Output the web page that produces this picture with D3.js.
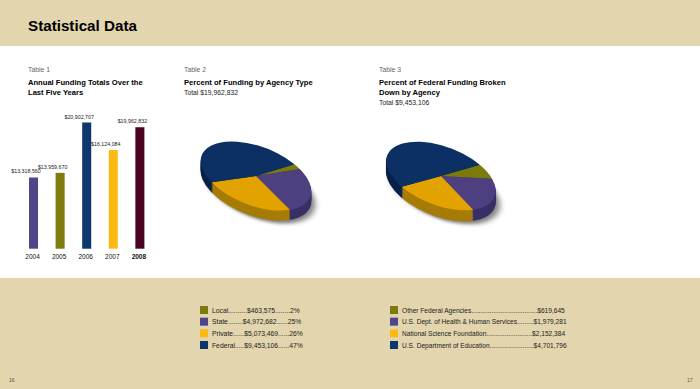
<!DOCTYPE html>
<html><head><meta charset="utf-8">
<script src="https://cdn.jsdelivr.net/npm/d3@7"></script>
<style>html,body{margin:0;padding:0;background:#fff}svg{display:block}text{font-family:"Liberation Sans",Arial,sans-serif}</style>
</head><body><svg id="c" width="700" height="389"></svg>
<script>
const years = ["2004","2005","2006","2007","2008"];
const barValues = [13318560,13959670,20902707,17100000,20250000];
const barLabels = ["$13,318,560","$13,959,670","$20,902,707","$16,124,084","$19,962,832"];
const barColors = ["#50468a","#7f7d0e","#0e376c","#fdb913","#4b0320"];
const agencyTypes = ["Local","State","Private","Federal"];
const agencyValues = [463575,4972682,5073469,9453106];
const agencyRows = ["Local..........$463,575........2%","State........$4,972,682......25%","Private......$5,073,469......26%","Federal.....$9,453,106......47%"];
const federalAgencies = ["Other Federal Agencies","U.S. Dept. of Health & Human Services","National Science Foundation","U.S. Department of Education"];
const federalValues = [619645,1979281,2152384,4701796];
const federalRows = ["Other Federal Agencies....................................$619,645","U.S. Dept. of Health & Human Services.........$1,979,281","National Science Foundation.........................$2,152,384","U.S. Department of Education........................$4,701,796"];
const pieTop = ["#7b7b0a","#4e4080","#e2a200","#0c3063"];
const pieSide = ["#5c5c08","#3a2f66","#a67c08","#07214a"];
const legendColors = ["#7b7b0a","#50468a","#fdb913","#0e376c"];

const band = "#e3d5ad";
const svg = d3.select("#c");
const defs = svg.append("defs");
defs.append("filter").attr("id","blur").attr("x","-30%").attr("y","-30%").attr("width","160%").attr("height","160%")
  .append("feGaussianBlur").attr("stdDeviation",3);

svg.append("rect").attr("width",700).attr("height",46).attr("fill",band);
svg.append("rect").attr("y",278).attr("width",700).attr("height",111).attr("fill",band);
svg.append("text").attr("x",28).attr("y",31).attr("font-size",15.2).attr("font-weight","bold").attr("fill","#000").text("Statistical Data");

function head(x, table, lines, total){
  svg.append("text").attr("x",x).attr("y",72).attr("font-size",6.8).attr("fill","#666").text(table);
  lines.forEach((l,i)=>svg.append("text").attr("x",x).attr("y",85+i*10).attr("font-size",7.6).attr("font-weight","bold").attr("fill","#000").text(l));
  if(total) svg.append("text").attr("x",x).attr("y",85+lines.length*10-0.5).attr("font-size",6.8).attr("fill","#222").text(total);
}
head(28,"Table 1",["Annual Funding Totals Over the","Last Five Years"]);
head(184,"Table 2",["Percent of Funding by Agency Type"],"Total $19,962,832");
head(379,"Table 3",["Percent of Federal Funding Broken","Down by Agency"],"Total $9,453,106");

// bars
const x = d3.scaleBand().domain(years).range([29,144.4]).paddingInner(0.66).paddingOuter(0);
const y = d3.scaleLinear().domain([3500000,20902707]).range([248.7,122.5]);
const gb = svg.append("g");
gb.selectAll("rect").data(years).join("rect")
  .attr("x",d=>x(d)).attr("width",x.bandwidth())
  .attr("y",(d,i)=>y(barValues[i])).attr("height",(d,i)=>y.range()[0]-y(barValues[i]))
  .attr("fill",(d,i)=>barColors[i]);
gb.selectAll("text.v").data(years).join("text").attr("class","v")
  .attr("x",d=>x(d)+x.bandwidth()/2-7.5).attr("y",(d,i)=>y(barValues[i])-4)
  .attr("text-anchor","middle").attr("font-size",5.3).attr("fill","#222").text((d,i)=>barLabels[i]);
gb.selectAll("text.y").data(years).join("text").attr("class","y")
  .attr("x",d=>x(d)+x.bandwidth()/2-1).attr("y",258.7)
  .attr("text-anchor","middle").attr("font-size",6.5).attr("font-weight",d=>d==="2008"?"bold":"normal").attr("fill","#111").text(d=>d);

// 3D pies
function pie3d(values,cx,cy,a,k,rot,depth,startDeg){
  const arcs = d3.pie().sort(null).startAngle(startDeg*Math.PI/180).endAngle((startDeg+360)*Math.PI/180)(values);
  const arc = d3.arc().innerRadius(0).outerRadius(a);
  const place = dy=>`translate(${cx},${cy+dy}) rotate(${rot}) scale(1,${k})`;
  svg.append("path").attr("d",arc({startAngle:0,endAngle:2*Math.PI}))
    .attr("transform",`translate(${cx+4},${cy+depth+3}) rotate(${rot}) scale(1,${k})`)
    .attr("fill","#000").attr("opacity",0.5).attr("filter","url(#blur)");
  d3.range(depth,0,-1).forEach(dy=>{
    svg.append("g").attr("transform",place(dy)).selectAll("path").data(arcs).join("path")
      .attr("d",arc).attr("fill",(d,i)=>pieSide[i]).attr("stroke",(d,i)=>pieSide[i]).attr("stroke-width",0.3);
  });
  svg.append("g").attr("transform",place(0)).selectAll("path").data(arcs).join("path")
    .attr("d",arc).attr("fill",(d,i)=>pieTop[i]);
}
pie3d(agencyValues,256,176,58,0.51,21,10,33);
pie3d(federalValues,441,176,57.5,0.51,21,11,34);

// legends
function legend(rows,sx,tx,size){
  const ly = d3.scalePoint().domain(rows).range([310,345]);
  const g = svg.append("g");
  g.selectAll("rect").data(rows).join("rect").attr("x",sx).attr("y",d=>ly(d)-4).attr("width",8).attr("height",8)
    .attr("fill",(d,i)=>legendColors[i]);
  g.selectAll("text").data(rows).join("text").attr("x",tx).attr("y",d=>ly(d)+2.5).attr("font-size",size).attr("fill","#222").text(d=>d);
}
legend(agencyRows,200,212,6.75);
legend(federalRows,390,402,6.6);

svg.append("text").attr("x",9).attr("y",382).attr("font-size",5).attr("fill","#555").text("16");
svg.append("text").attr("x",687).attr("y",382).attr("font-size",5).attr("fill","#555").text("17");
</script></body></html>
